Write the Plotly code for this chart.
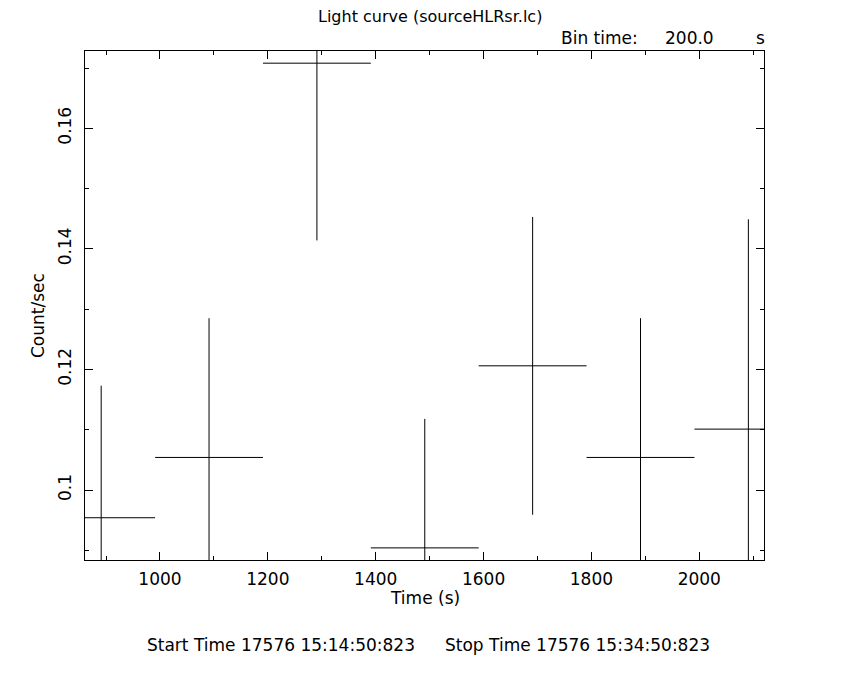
import plotly.graph_objects as go

# Data
time_s = [891, 1091, 1291, 1491, 1691, 1891, 2091]
half_bin = [100, 100, 100, 100, 100, 100, 100]
rate = [0.0954, 0.1054, 0.1708, 0.0904, 0.1206, 0.1054, 0.1101]
rate_err = [0.0219, 0.0231, 0.0294, 0.0214, 0.0247, 0.0231, 0.0348]

x_ticks = [1000, 1200, 1400, 1600, 1800, 2000]
y_ticks = [0.1, 0.12, 0.14, 0.16]

FONT = "DejaVu Sans"
fs = 17

# page offset (body margin) of 8px
OFF = 8
L, R, T, B = 85, 764, 51, 560  # target plot box in screen pixels

fig = go.Figure()
fig.add_trace(go.Scatter(
    x=time_s, y=rate, mode="markers",
    marker=dict(size=0.1, color="black", opacity=0),
    error_x=dict(type="data", array=half_bin, symmetric=True, width=0,
                 thickness=1, color="black"),
    error_y=dict(type="data", array=rate_err, symmetric=True, width=0,
                 thickness=1, color="black"),
    showlegend=False, hoverinfo="skip",
))

axis_common = dict(
    showline=True, linecolor="black", linewidth=1, mirror="ticks",
    ticks="inside", ticklen=8, tickwidth=1, tickcolor="black",
    showgrid=False, zeroline=False,
    tickfont=dict(family=FONT, size=fs, color="black"),
)

fig.update_xaxes(
    range=[861, 2120], tickvals=x_ticks, tickformat="d",
    minor=dict(ticks="inside", ticklen=4, tickwidth=1, tickcolor="black", dtick=100, tick0=0),
    ticklabelstandoff=4,
    **axis_common,
)
fig.update_yaxes(
    range=[0.08839, 0.17282], tickvals=y_ticks, tickangle=-90,
    minor=dict(ticks="inside", ticklen=4, tickwidth=1, tickcolor="black", dtick=0.01, tick0=0),
    ticklabelstandoff=6,
    **axis_common,
)

annotations = [
    dict(text="Light curve (sourceHLRsr.lc)", x=430, y=17, size=16),
    dict(text="Bin time:", x=560, y=38, xanchor="left"),
    dict(text="200.0", x=689, y=38),
    dict(text="s", x=760, y=38),
    dict(text="Time (s)", x=425, y=598),
    dict(text="Start Time 17576 15:14:50:823", x=146, y=645, xanchor="left"),
    dict(text="Stop Time 17576 15:34:50:823", x=711, y=645, xanchor="right"),
]
for a in annotations:
    fig.add_annotation(
        text=a["text"], xref="paper", yref="paper",
        x=(a["x"] - L) / (R - L), y=1 - (a["y"] - T) / (B - T),
        xanchor=a.get("xanchor", "center"), yanchor="middle",
        showarrow=False, borderpad=0,
        font=dict(family=FONT, size=a.get("size", fs), color="black"),
    )
fig.add_annotation(
    text="Count/sec", xref="paper", yref="paper",
    x=(38 - L) / (R - L), y=1 - (316 - T) / (B - T),
    xanchor="center", yanchor="middle", textangle=-90,
    showarrow=False, font=dict(family=FONT, size=fs, color="black"),
)

fig.update_layout(
    width=850, height=680,
    margin=dict(l=L - OFF, r=850 - R + OFF, t=T - OFF, b=680 - B + OFF),
    paper_bgcolor="white", plot_bgcolor="white",
    font=dict(family=FONT, size=fs, color="black"),
)

fig.write_html("out.html")
